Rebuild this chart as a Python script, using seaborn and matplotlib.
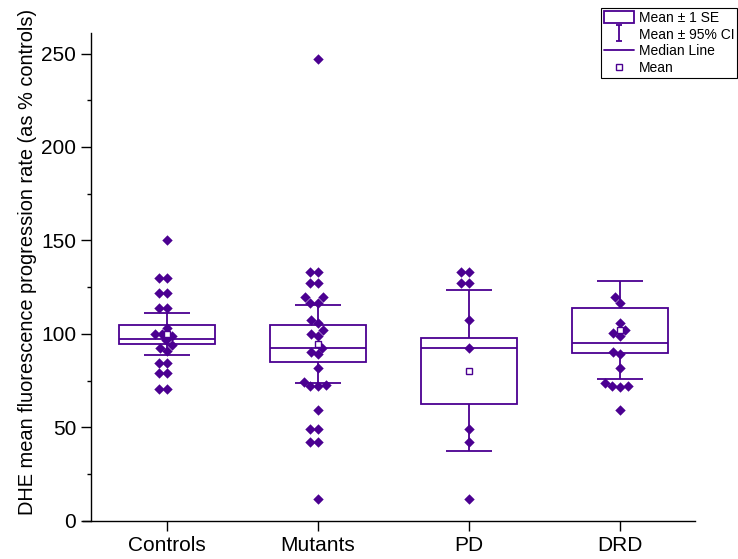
import numpy as np
import pandas as pd
import seaborn as sns
import matplotlib.pyplot as plt
from matplotlib.lines import Line2D
from matplotlib.patches import Patch
from matplotlib.path import Path
from matplotlib.ticker import MultipleLocator

# categories
groups = ['Controls', 'Mutants', 'PD', 'DRD']

# individual values
controls = [150, 130, 130, 122, 122, 114, 114, 103, 99, 100, 100,
            96.5, 94, 92.5, 91, 84.5, 84.5, 79, 79, 70.5, 70.5]
mutants = [247, 133, 133, 127, 127, 119.5, 119.5, 116.5, 116.5, 107.5,
           106, 102, 100, 99, 92.5, 90.5, 89, 81.5, 74, 72.5, 72, 72,
           59.5, 49, 49, 42, 42, 11.5]
pd_vals = [133, 133, 127, 127, 107.5, 92.5, 49, 42, 11.5]
drd = [119.5, 116.5, 106, 102, 100.5, 99, 90.5, 89, 81.5, 73.5, 72,
       71.5, 72, 59.5]

# summary statistics shown by the boxes
means = [99.8, 94.8, 80.3, 101.9]
medians = [97.4, 92.4, 92.4, 94.9]
se_low = [94.6, 84.8, 62.6, 89.9]
se_high = [104.9, 104.8, 97.8, 114.0]
ci_low = [88.5, 73.9, 37.3, 75.8]
ci_high = [111.0, 115.6, 123.5, 128.1]

df = pd.DataFrame({
    'group': ['Controls'] * len(controls) + ['Mutants'] * len(mutants)
             + ['PD'] * len(pd_vals) + ['DRD'] * len(drd),
    'value': controls + mutants + pd_vals + drd,
})

sns.set_style('ticks')
plt.rcParams['font.family'] = ['Liberation Sans', 'DejaVu Sans']
plt.rcParams['text.color'] = 'black'
plt.rcParams['axes.labelcolor'] = 'black'
plt.rcParams['xtick.color'] = 'black'
plt.rcParams['ytick.color'] = 'black'

purple = '#4b0091'

fig = plt.figure(figsize=(7.38, 5.59), dpi=100)
ax = fig.add_axes([0.1125, 0.0685, 0.829, 0.8725])

# data points
sns.swarmplot(data=df, x='group', y='value', order=groups, marker='D',
              color=purple, size=5.3, linewidth=0, ax=ax, zorder=3)

x = np.arange(len(groups))
lo = np.array(se_low)
hi = np.array(se_high)

# mean +- SE box
ax.bar(x, hi - lo, bottom=lo, width=0.64, facecolor='none',
       edgecolor=purple, linewidth=1.3, zorder=2)
# median line
ax.hlines(medians, x - 0.32, x + 0.32, color=purple, linewidth=1.3, zorder=2)
# 95% CI whiskers
ax.vlines(x, hi, ci_high, color=purple, linewidth=1.3, zorder=2)
ax.vlines(x, ci_low, lo, color=purple, linewidth=1.3, zorder=2)
ax.hlines(ci_high, x - 0.155, x + 0.155, color=purple, linewidth=1.3, zorder=2)
ax.hlines(ci_low, x - 0.155, x + 0.155, color=purple, linewidth=1.3, zorder=2)
# mean marker
ax.plot(x, means, 's', markersize=5, markerfacecolor='white',
        markeredgecolor=purple, markeredgewidth=1, linestyle='none', zorder=4)

ax.set_xlim(-0.556, 3.495)
ax.set_ylim(0, 261)
ax.spines['top'].set_visible(False)
ax.spines['right'].set_visible(False)
ax.spines['left'].set_position(('data', -0.5))
for s in ['left', 'bottom']:
    ax.spines[s].set_linewidth(1.0)
    ax.spines[s].set_color('black')

ax.set_yticks(range(0, 251, 50))
ax.yaxis.set_minor_locator(MultipleLocator(25))
ax.tick_params(axis='both', which='major', direction='out', length=7,
               width=1, labelsize=15, pad=4)
ax.tick_params(axis='y', which='minor', direction='out', length=3, width=1)
ax.set_xlabel('')
ax.set_ylabel('DHE mean fluorescence progression rate (as % controls)',
              fontsize=14.4)
ax.yaxis.set_label_coords(-0.076, 0.53)

# legend
err_path = Path([(-0.4, -1), (0.4, -1), (0, -1), (0, 1), (-0.4, 1), (0.4, 1)],
                [Path.MOVETO, Path.LINETO, Path.MOVETO, Path.LINETO,
                 Path.MOVETO, Path.LINETO])
handles = [
    Patch(facecolor='white', edgecolor=purple, linewidth=1.3),
    Line2D([], [], marker=err_path, markersize=11, color=purple,
           markeredgewidth=1.3, linestyle='none'),
    Line2D([], [], color=purple, linewidth=1.3),
    Line2D([], [], marker='s', markersize=4.5, markerfacecolor='white',
           markeredgecolor=purple, markeredgewidth=1, linestyle='none'),
]
labels = ['Mean \u00b1 1 SE', 'Mean \u00b1 95% CI', 'Median Line', 'Mean']
leg = fig.legend(handles, labels, loc='upper right',
                 bbox_to_anchor=(737 / 738, 1 - 8 / 559), fontsize=10,
                 frameon=True, fancybox=False, framealpha=1,
                 edgecolor='black', borderpad=0.2, labelspacing=0.2,
                 handlelength=2.2, handleheight=1.0, handletextpad=0.3,
                 borderaxespad=0)
leg.get_frame().set_linewidth(0.8)

fig.savefig('out.png', dpi=100)
